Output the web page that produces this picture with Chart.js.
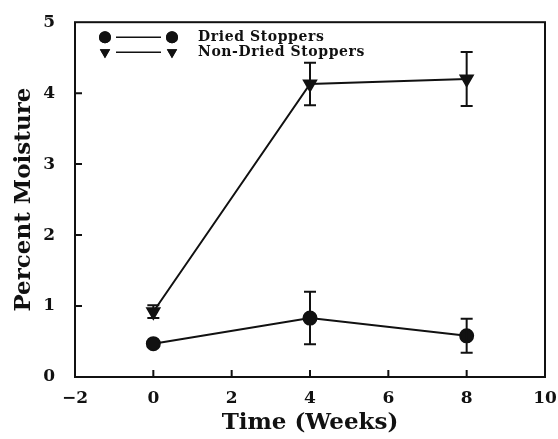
<!DOCTYPE html>
<html>
<head>
<meta charset="utf-8">
<script src="https://cdn.jsdelivr.net/npm/chart.js@4/dist/chart.umd.min.js"></script>
<style>
  html, body { margin: 0; padding: 0; background: #fff; }
  #wrap { width: 558px; height: 439px; position: relative; }
</style>
</head>
<body>
<div id="wrap"><canvas id="c" width="558" height="439"></canvas></div>
<script>
// Sampling times (weeks)
const weeks = [0, 4, 8];

// Moisture content (%) and standard deviations
const driedMean = [0.47, 0.83, 0.58];
const driedErr = [0.0, 0.37, 0.24];
const nonDriedMean = [0.92, 4.13, 4.20];
const nonDriedErr = [0.09, 0.30, 0.38];

const seriesNames = ['Dried Stoppers', 'Non-Dried Stoppers'];

const xTicks = [-2, 0, 2, 4, 6, 8, 10];
const yTicks = [0, 1, 2, 3, 4, 5];

const serif = '"DejaVu Serif", "Liberation Serif", serif';
const ink = '#111';

function toPoints(xs, ys) { return xs.map((x, i) => ({ x: x, y: ys[i] })); }

// Vertical error bars with caps, positioned through the chart scales
const errorBars = {
  id: 'errorBars',
  afterDatasetsDraw(chart) {
    const { ctx, scales: { x, y } } = chart;
    const sets = [[driedMean, driedErr], [nonDriedMean, nonDriedErr]];
    ctx.save();
    ctx.strokeStyle = ink;
    ctx.lineWidth = 2;
    sets.forEach(([m, e]) => {
      weeks.forEach((w, i) => {
        if (!e[i]) return;
        const px = x.getPixelForValue(w);
        const top = y.getPixelForValue(m[i] + e[i]);
        const bot = y.getPixelForValue(m[i] - e[i]);
        ctx.beginPath();
        ctx.moveTo(px, top); ctx.lineTo(px, bot);
        ctx.moveTo(px - 6, top); ctx.lineTo(px + 6, top);
        ctx.moveTo(px - 6, bot); ctx.lineTo(px + 6, bot);
        ctx.stroke();
      });
    });
    ctx.restore();
  }
};

// Frame around the plot, inward tick marks and the key in the top-left corner
const frameAndKey = {
  id: 'frameAndKey',
  afterDraw(chart) {
    const { ctx, chartArea: a, scales: { x, y } } = chart;
    ctx.save();
    ctx.strokeStyle = ink;
    ctx.lineWidth = 2;
    ctx.strokeRect(a.left, a.top, a.right - a.left, a.bottom - a.top);
    ctx.beginPath();
    xTicks.slice(1, -1).forEach(t => {
      const px = x.getPixelForValue(t);
      ctx.moveTo(px, a.bottom); ctx.lineTo(px, a.bottom - 7);
    });
    yTicks.slice(1, -1).forEach(t => {
      const py = y.getPixelForValue(t);
      ctx.moveTo(a.left, py); ctx.lineTo(a.left + 7, py);
    });
    ctx.stroke();

    // key
    const rows = [
      { y: a.top + 15, style: 'circle' },
      { y: a.top + 30, style: 'triangle' }
    ];
    const x1 = a.left + 30, x2 = a.left + 97, tx = a.left + 123;
    ctx.fillStyle = ink;
    ctx.font = 'bold 14px ' + serif;
    if ('letterSpacing' in ctx) ctx.letterSpacing = '0.6px';
    ctx.textBaseline = 'middle';
    rows.forEach((r, i) => {
      ctx.lineWidth = 1.5;
      ctx.beginPath();
      ctx.moveTo(x1 + 11, r.y); ctx.lineTo(x2 - 11, r.y);
      ctx.stroke();
      [x1, x2].forEach(cx => {
        if (r.style === 'circle') {
          Chart.helpers.drawPoint(ctx, { pointStyle: 'circle', radius: 6, rotation: 0 }, cx, r.y);
        } else {
          Chart.helpers.drawPoint(ctx, { pointStyle: 'triangle', radius: 6, rotation: 180 }, cx, r.y);
        }
        ctx.fill();
      });
      ctx.fillText(seriesNames[i], tx, r.y);
    });
    ctx.restore();
  }
};

new Chart(document.getElementById('c'), {
  type: 'scatter',
  data: {
    datasets: [
      {
        label: seriesNames[0],
        data: toPoints(weeks, driedMean),
        showLine: true,
        borderColor: ink,
        borderWidth: 2,
        backgroundColor: ink,
        pointStyle: 'circle',
        pointRadius: 6.5,
        pointHoverRadius: 6.5
      },
      {
        label: seriesNames[1],
        data: toPoints(weeks, nonDriedMean),
        showLine: true,
        borderColor: ink,
        borderWidth: 2,
        backgroundColor: ink,
        pointStyle: 'triangle',
        pointRotation: 180,
        pointRadius: 7,
        pointHoverRadius: 7
      }
    ]
  },
  options: {
    responsive: false,
    animation: false,
    events: [],
    layout: { padding: { top: 22, right: 13, left: 0, bottom: 0 } },
    plugins: { legend: { display: false }, tooltip: { enabled: false } },
    scales: {
      x: {
        type: 'linear',
        min: -2, max: 10,
        afterBuildTicks: s => { s.ticks = xTicks.map(v => ({ value: v })); },
        afterFit: s => { s.height = 62; s.paddingLeft = 0; s.paddingRight = 0; },
        grid: { display: false },
        border: { display: false },
        ticks: {
          color: ink,
          padding: 3,
          maxRotation: 0,
          font: { family: serif, size: 17, weight: 'bold' },
          callback: v => (v < 0 ? '\u2212' + Math.abs(v) : String(v))
        },
        title: {
          display: true,
          text: 'Time (Weeks)',
          color: ink,
          padding: { top: 0, bottom: 2 },
          font: { family: serif, size: 23, weight: 'bold' }
        }
      },
      y: {
        type: 'linear',
        min: 0, max: 5,
        afterBuildTicks: s => { s.ticks = yTicks.map(v => ({ value: v })); },
        afterFit: s => { s.width = 75; },
        grid: { display: false },
        border: { display: false },
        ticks: {
          color: ink,
          padding: 12,
          font: { family: serif, size: 17, weight: 'bold' }
        },
        title: {
          display: true,
          text: 'Percent Moisture',
          color: ink,
          padding: { top: 10, bottom: 0 },
          font: { family: serif, size: 23, weight: 'bold' }
        }
      }
    }
  },
  plugins: [errorBars, frameAndKey]
});
</script>
</body>
</html>
